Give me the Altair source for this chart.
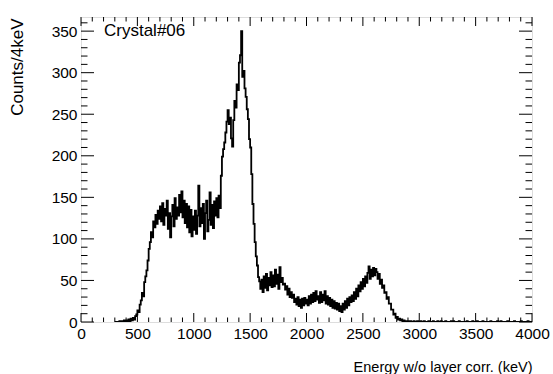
import altair as alt
import pandas as pd

# Histogram: counts per 4 keV, sampled in 10 keV steps starting at 300 keV
bin_start = 300
bin_step = 10
counts = [
    # 300 - 390
    0, 0, 0, 0, 1, 0, 1, 0, 2, 1,
    # 400 - 490
    2, 1, 3, 1, 4, 2, 5, 3, 7, 9,
    # 500 - 590
    14, 12, 21, 26, 35, 31, 48, 55, 62, 74,
    # 600 - 690
    88, 96, 108, 102, 121, 114, 129, 118, 134, 124,
    # 700 - 790
    139, 121, 143, 117, 136, 128, 146, 112, 131, 102,
    # 800 - 890
    127, 141, 115, 149, 124, 138, 128, 153, 132, 157,
    # 900 - 990
    126, 146, 119, 142, 114, 139, 108, 135, 103, 127,
    # 1000 - 1090
    111, 134, 106, 128, 164, 115, 137, 119, 142, 100,
    # 1100 - 1190
    131, 146, 109, 123, 156, 117, 141, 113, 145, 128,
    # 1200 - 1290
    149, 126, 152, 137, 176, 199, 208, 216, 228, 241,
    # 1300 - 1390
    255, 238, 246, 221, 211, 243, 266, 258, 286, 279,
    # 1400 - 1490
    312, 321, 350, 295, 302, 281, 271, 256, 244, 220,
    # 1500 - 1590
    210, 178, 142, 118, 96, 79, 68, 54, 49, 40,
    # 1600 - 1690
    51, 36, 55, 41, 58, 38, 53, 44, 60, 42,
    # 1700 - 1790
    56, 43, 63, 46, 57, 40, 66, 48, 53, 45,
    # 1800 - 1890
    46, 39, 43, 33, 40, 30, 36, 29, 33, 24,
    # 1900 - 1990
    28, 21, 30, 19, 27, 17, 28, 20, 29, 22,
    # 2000 - 2090
    27, 20, 31, 22, 33, 24, 35, 25, 37, 27,
    # 2100 - 2190
    31, 23, 36, 24, 33, 26, 37, 22, 31, 21,
    # 2200 - 2290
    29, 19, 27, 17, 25, 16, 23, 15, 22, 13,
    # 2300 - 2390
    19, 12, 22, 15, 25, 17, 28, 20, 30, 24,
    # 2400 - 2490
    32, 25, 36, 28, 40, 31, 44, 37, 48, 40,
    # 2500 - 2590
    52, 43, 55, 47, 59, 67, 52, 63, 55, 65,
    # 2600 - 2690
    56, 64, 60, 52, 58, 46, 51, 41, 44, 35,
    # 2700 - 2790
    36, 28, 30, 22, 22, 15, 15, 9, 10, 5,
    # 2800 - 2890
    6, 3, 4, 2, 3, 1, 2, 1, 1, 0,
    # 2900 - 2990
    1, 0, 1, 0, 0, 1, 0, 0, 1, 0,
    # 3000 - 3490
    0, 1, 0, 0, 1, 0, 0, 0, 1, 0,
    0, 0, 1, 0, 0, 0, 1, 0, 0, 1,
    0, 0, 0, 1, 0, 0, 0, 0, 1, 0,
    1, 0, 0, 0, 0, 1, 0, 0, 0, 0,
    0, 0, 1, 0, 0, 0, 0, 1, 0, 0,
    # 3500 - 3990
    0, 1, 0, 0, 0, 0, 1, 0, 0, 0,
    0, 0, 0, 1, 0, 0, 0, 0, 0, 1,
    0, 0, 1, 0, 0, 0, 0, 0, 1, 0,
    0, 0, 0, 0, 1, 0, 0, 0, 0, 0,
    1, 0, 0, 0, 0, 0, 1, 0, 0, 0,
]

x_min, x_max = 0, 4000
y_min, y_max = 0, 367

x_major = [0, 500, 1000, 1500, 2000, 2500, 3000, 3500, 4000]
x_minor = [v for v in range(0, 4001, 100) if v % 500 != 0]
y_major = [0, 50, 100, 150, 200, 250, 300, 350]
y_minor = [v for v in range(0, 367, 10) if v % 50 != 0]

W, H = 451, 305
FONT = "Liberation Sans"

energies = [bin_start + i * bin_step for i in range(len(counts))]
hist = pd.DataFrame({
    "energy": energies + [x_max],
    "counts": counts + [counts[-1]],
})

xs = alt.Scale(domain=[x_min, x_max], nice=False, zero=False)
ys = alt.Scale(domain=[y_min, y_max], nice=False, zero=False)

line = alt.Chart(hist).mark_line(
    interpolate="step-after", color="black", strokeWidth=1.8, clip=True
).encode(
    x=alt.X("energy:Q", scale=xs, axis=alt.Axis(
        values=x_major, format="d", ticks=False, tickSize=0, domain=False, grid=False,
        labelFont=FONT, labelFontSize=15.5, labelColor="black", labelPadding=4,
        labelFlush=False, labelOverlap=False,
        title="Energy w/o layer corr. (keV)", titleFont=FONT, titleFontSize=14.5,
        titleFontWeight="normal", titleColor="black", titleAlign="right",
        titleAnchor="end", titleX=W, titleY=49, titleBaseline="alphabetic",
    )),
    y=alt.Y("counts:Q", scale=ys, axis=alt.Axis(
        values=y_major, format="d", ticks=False, tickSize=0, domain=False, grid=False,
        labelFont=FONT, labelFontSize=15.5, labelColor="black", labelPadding=4,
        labelFlush=False, labelOverlap=False,
        title="Counts/4keV", titleFont=FONT, titleFontSize=17,
        titleFontWeight="normal", titleColor="black", titleAngle=-90,
        titleAlign="right", titleAnchor="end", titleX=-72, titleY=1,
        titleBaseline="top",
    )),
)

# Inward-pointing ticks on all four sides of the frame
def xticks(vals, length):
    df = pd.DataFrame({"v": vals})
    base = alt.Chart(df).mark_rule(color="black", strokeWidth=1)
    bottom = base.encode(x=alt.X("v:Q", scale=xs), y=alt.value(H), y2=alt.value(H - length))
    top = base.encode(x=alt.X("v:Q", scale=xs), y=alt.value(0), y2=alt.value(length))
    return [bottom, top]

def yticks(vals, length):
    df = pd.DataFrame({"v": vals})
    base = alt.Chart(df).mark_rule(color="black", strokeWidth=1)
    left = base.encode(y=alt.Y("v:Q", scale=ys), x=alt.value(0), x2=alt.value(length))
    right = base.encode(y=alt.Y("v:Q", scale=ys), x=alt.value(W), x2=alt.value(W - length))
    return [left, right]

tick_layers = (
    xticks(x_major, 9) + xticks(x_minor, 4.5)
    + yticks(y_major, 13) + yticks(y_minor, 6.5)
)

label = alt.Chart(pd.DataFrame({"t": ["Crystal#06"]})).mark_text(
    align="left", baseline="middle", font=FONT, fontSize=17, color="black"
).encode(text="t:N", x=alt.value(23), y=alt.value(14))

chart = alt.layer(line, *tick_layers, label).properties(
    width=W, height=H,
    autosize=alt.AutoSizeParams(type="none"),
    padding={"left": 81, "top": 17, "right": 21, "bottom": 52},
).configure_view(
    stroke="black", strokeWidth=1, fill="white"
).configure(background="white")

chart.save("out.html", embed_options={"renderer": "svg", "actions": False})
